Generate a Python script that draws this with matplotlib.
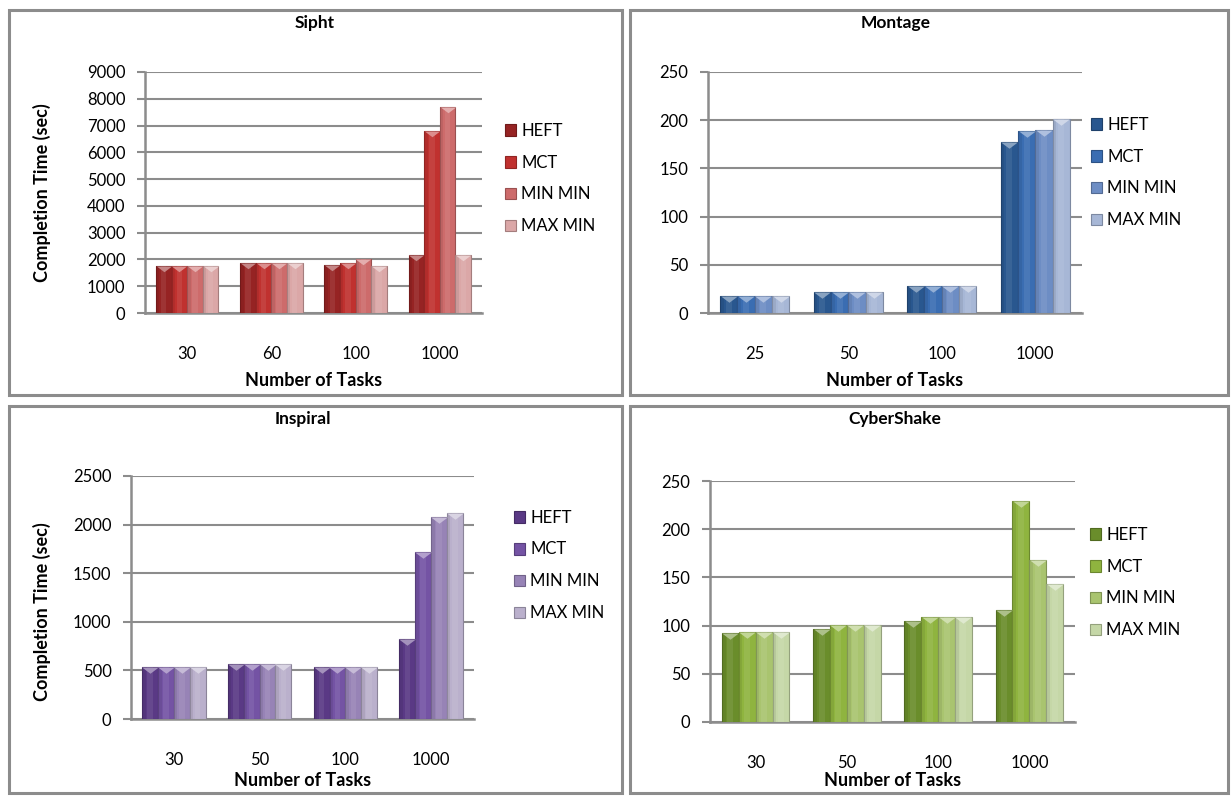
import numpy as np
import matplotlib
matplotlib.use("Agg")
import matplotlib.pyplot as plt
from matplotlib.patches import Rectangle
from matplotlib.path import Path

plt.rcParams['font.family'] = ['Lato', 'DejaVu Sans']

# data ---------------------------------------------------------------
algos = ["HEFT", "MCT", "MIN MIN", "MAX MIN"]

sipht_tasks = ["30", "60", "100", "1000"]
sipht_heft = [1750, 1850, 1800, 2150]
sipht_mct = [1750, 1850, 1850, 6800]
sipht_minmin = [1750, 1850, 2000, 7700]
sipht_maxmin = [1750, 1850, 1750, 2150]

montage_tasks = ["25", "50", "100", "1000"]
montage_heft = [18, 21.5, 27.5, 177]
montage_mct = [18, 21.5, 27.5, 189]
montage_minmin = [18, 21.5, 27.5, 190]
montage_maxmin = [18, 21.5, 27.5, 201]

inspiral_tasks = ["30", "50", "100", "1000"]
inspiral_heft = [535, 565, 535, 820]
inspiral_mct = [535, 565, 535, 1715]
inspiral_minmin = [535, 565, 535, 2075]
inspiral_maxmin = [535, 565, 535, 2115]

cyber_tasks = ["30", "50", "100", "1000"]
cyber_heft = [92.5, 96.5, 105, 116]
cyber_mct = [93.5, 100.5, 109, 229]
cyber_minmin = [93.5, 100.5, 109, 168]
cyber_maxmin = [93.5, 100.5, 109, 143]

# colours per workflow (dark -> light)
reds = ["#962323", "#c0312f", "#cd6b6b", "#dba7a7"]
blues = ["#29578f", "#3a6db2", "#6d8dc4", "#a7b7d6"]
purples = ["#5a3985", "#7453a4", "#9783b6", "#bab0cc"]
greens = ["#6a8d2b", "#8fb43f", "#a9c46f", "#c5d7a7"]

W, H = 1231, 796
fig = plt.figure(figsize=(W / 100, H / 100), dpi=100)
GRID = "#8c8c8c"

# triangle highlight sitting on top of each bar
tri = Path([(-1, 0), (1, 0), (0, -0.75), (-1, 0)],
           [Path.MOVETO, Path.LINETO, Path.LINETO, Path.CLOSEPOLY])


def px_axes(x0, y0, x1, y1):
    return fig.add_axes([x0 / W, 1 - y1 / H, (x1 - x0) / W, (y1 - y0) / H])


def frame(x0, y0, x1, y1):
    fig.add_artist(Rectangle((x0 / W, 1 - y1 / H), (x1 - x0) / W, (y1 - y0) / H,
                             transform=fig.transFigure, fill=False,
                             edgecolor=GRID, lw=2.2))


def ftext(x, y, s, **kw):
    fig.text(x / W, 1 - y / H, s, ha="center", va="center", **kw)


def lighten(c, f):
    rgb = np.array(matplotlib.colors.to_rgb(c))
    return tuple(rgb + (1 - rgb) * f)


def darken(c, f):
    rgb = np.array(matplotlib.colors.to_rgb(c))
    return tuple(rgb * (1 - f))


def panel(box, title, title_xy, xlab_y, tasks, series, colors, ymax, step,
          ylab_xy, leg_xy, tsize):
    ax = px_axes(*box)
    x = np.arange(len(tasks))
    bw = 0.185
    offs = (np.arange(4) - 1.5) * bw
    for vals, col, off, name in zip(series, colors, offs, algos):
        ax.bar(x + off, vals, bw, color=col, edgecolor=darken(col, 0.25),
               linewidth=0.8, label=name, zorder=3)
        # bevel shading
        ax.bar(x + off - bw * 0.38, vals, bw * 0.2, color=darken(col, 0.2),
               alpha=0.35, linewidth=0, zorder=4)
        ax.bar(x + off, vals, bw * 0.35, color="white", alpha=0.08,
               linewidth=0, zorder=4)
        ax.plot(x + off, vals, linestyle="none", marker=tri,
                markersize=tsize, color=lighten(col, 0.45),
                markeredgewidth=0, zorder=5)
    ax.set_xlim(-0.5, len(tasks) - 0.5)
    ax.set_ylim(0, ymax)
    ax.set_yticks(np.arange(0, ymax + step / 2, step))
    ax.set_xticks(x)
    ax.set_xticklabels(tasks)
    ax.yaxis.grid(True, color=GRID, lw=1.5, zorder=0)
    ax.set_axisbelow(True)
    for s in ["top", "right"]:
        ax.spines[s].set_visible(False)
    for s in ["left", "bottom"]:
        ax.spines[s].set_color(GRID)
        ax.spines[s].set_linewidth(1.8)
    ax.tick_params(axis="y", length=6, width=1.5, color=GRID, labelsize=12, pad=8)
    ax.tick_params(axis="x", length=0, labelsize=12, pad=24)

    cx = (box[0] + box[2]) / 2
    ftext(title_xy[0], title_xy[1], title, fontsize=12.5, fontweight="bold")
    ftext(cx, xlab_y, "Number of Tasks", fontsize=13, fontweight="bold")
    if ylab_xy:
        ftext(ylab_xy[0], ylab_xy[1], "Completion Time (sec)", fontsize=13,
              fontweight="bold", rotation=90)
    ax.legend(loc="upper left", bbox_to_anchor=(leg_xy[0] / W, 1 - leg_xy[1] / H),
              bbox_transform=fig.transFigure, frameon=False, fontsize=12,
              handlelength=0.7, handleheight=0.7, handletextpad=0.3,
              labelspacing=0.95, borderaxespad=0)
    return ax


frame(9, 10, 622, 395)
frame(630, 10, 1228, 395)
frame(9, 406, 622, 793)
frame(630, 406, 1228, 793)

panel((145, 72, 482, 313), "Sipht", (315, 23), 381, sipht_tasks,
      [sipht_heft, sipht_mct, sipht_minmin, sipht_maxmin], reds,
      9000, 1000, (42, 193), (498, 116), 11)
panel((708, 72, 1082, 313), "Montage", (896, 23), 381, montage_tasks,
      [montage_heft, montage_mct, montage_minmin, montage_maxmin], blues,
      250, 50, None, (1084, 110), 12)
panel((131, 476, 474, 719), "Inspiral", (303, 419), 781, inspiral_tasks,
      [inspiral_heft, inspiral_mct, inspiral_minmin, inspiral_maxmin], purples,
      2500, 500, (42, 612), (507, 503), 12)
panel((710, 481, 1075, 722), "CyberShake", (895, 419), 781, cyber_tasks,
      [cyber_heft, cyber_mct, cyber_minmin, cyber_maxmin], greens,
      250, 50, None, (1083, 520), 12)

fig.savefig("out.png", dpi=100)
